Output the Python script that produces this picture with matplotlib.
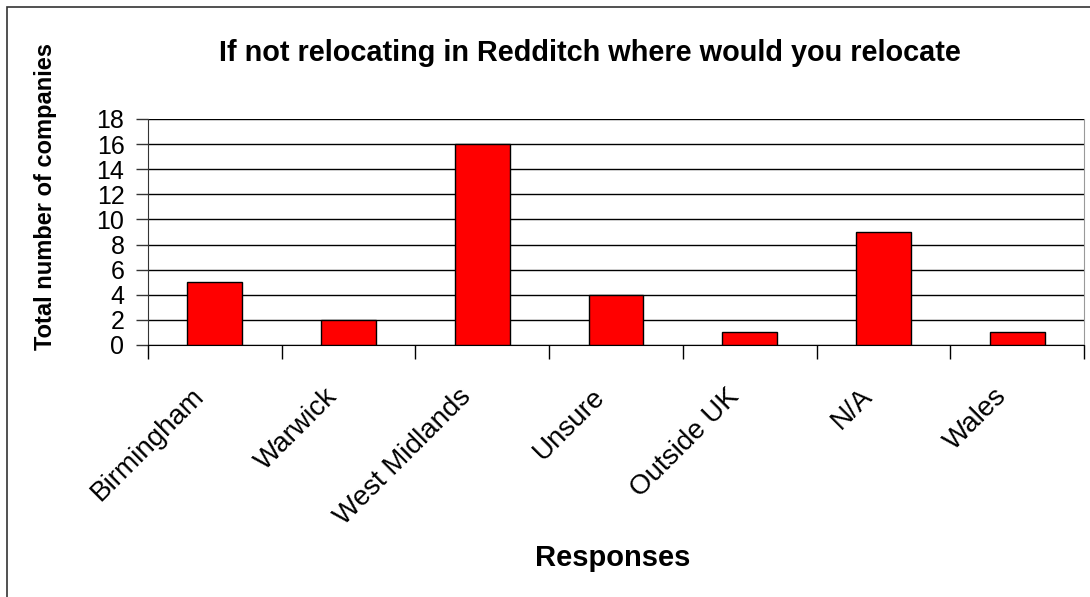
import numpy as np
import matplotlib
matplotlib.use("Agg")
import matplotlib.pyplot as plt
from matplotlib.patches import Rectangle
from matplotlib.transforms import ScaledTranslation

plt.rcParams['font.family'] = ['Liberation Sans', 'DejaVu Sans']

categories = ['Birmingham', 'Warwick', 'West Midlands', 'Unsure', 'Outside UK', 'N/A', 'Wales']
counts = [5, 2, 16, 4, 1, 9, 1]
yticks = list(range(0, 19, 2))

fig = plt.figure(figsize=(10.9, 5.97), dpi=100)
# chart-area border (left and top edges visible)
fig.patches.append(Rectangle((7/1090, -0.1), 1.2, 1 - 7/597 + 0.1, transform=fig.transFigure,
                             fill=False, edgecolor='#333333', linewidth=1.2))

ax = fig.add_axes([148/1090, 1 - 345/597, (1084 - 148)/1090, (345 - 119)/597])
x = np.arange(len(categories))
ax.bar(x, counts, width=0.41, color='#ff0000', edgecolor='black', linewidth=1, zorder=3)

ax.set_xlim(-0.5, len(categories) - 0.5)
ax.set_ylim(0, 18)
ax.set_yticks(yticks)
ax.set_yticklabels([str(v) for v in yticks], fontsize=18)
ax.yaxis.grid(True, color='black', linewidth=1, zorder=0)
ax.tick_params(axis='y', length=9, width=1, pad=8, color='#333333')

# category boundary ticks, labels at centres
ax.set_xticks(np.arange(-0.5, len(categories), 1.0))
ax.set_xticklabels([])
ax.tick_params(axis='x', which='major', length=10, width=1, direction='out')
ax.set_xticks(x, minor=True)
ax.set_xticklabels(categories, minor=True, rotation=45, ha='right', rotation_mode='anchor', fontsize=20)
ax.tick_params(axis='x', which='minor', length=0, pad=14)
shift = ScaledTranslation(-24/100, -19/100, fig.dpi_scale_trans)
for lab in ax.get_xticklabels(minor=True):
    lab.set_transform(lab.get_transform() + shift)

ax.spines['top'].set_visible(False)
ax.spines['left'].set_color('#333333')
ax.spines['right'].set_color('#999999')
ax.spines['bottom'].set_color('black')

fig.text(590/1090, 1 - 53/597, 'If not relocating in Redditch where would you relocate',
         ha='center', va='center', fontsize=20.8, fontweight='bold')
fig.text(46/1090, 1 - 196/597, 'Total number of companies', rotation=90,
         ha='center', va='center', fontsize=17, fontweight='bold')
fig.text(613/1090, 1 - 558/597, 'Responses', ha='center', va='center',
         fontsize=21, fontweight='bold')

fig.savefig('out.png', dpi=100)
